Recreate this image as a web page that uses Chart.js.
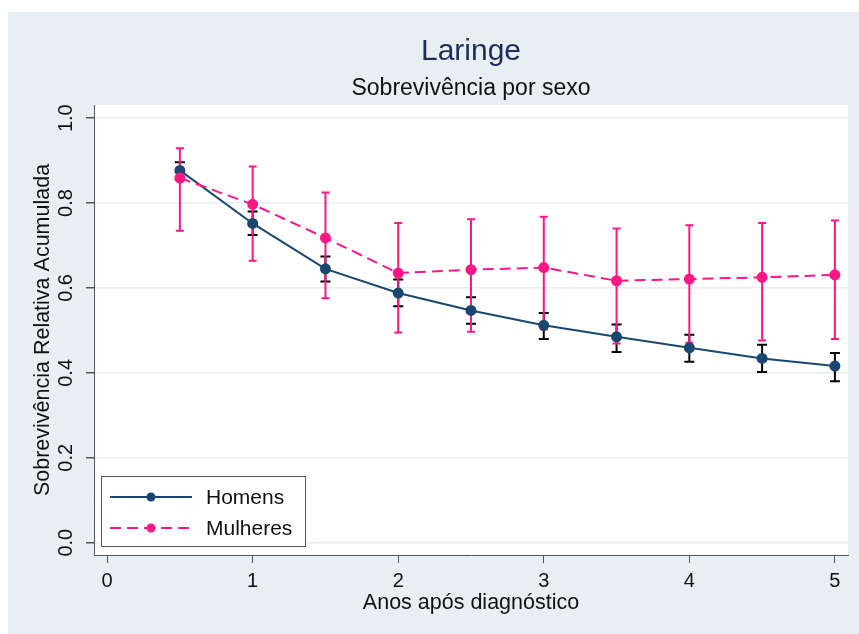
<!DOCTYPE html>
<html lang="pt">
<head>
    <meta charset="UTF-8">
    <title>Laringe</title>
    <script src="https://cdn.jsdelivr.net/npm/chart.js"></script>
    <style>
        html, body { margin: 0; padding: 0; background: #ffffff; }
        .wrap { width: 859px; height: 634px; }
    </style>
</head>
<body>
    <div class="wrap">
        <canvas id="survChart" width="859" height="634"></canvas>
    </div>

    <script>
        // years after diagnosis
        const anos = [0.5, 1, 1.5, 2, 2.5, 3, 3.5, 4, 4.5, 5];

        // Homens: estimate + CI
        const homens    = [0.877, 0.752, 0.645, 0.588, 0.547, 0.512, 0.485, 0.459, 0.434, 0.416];
        const homensLo  = [0.855, 0.725, 0.615, 0.557, 0.516, 0.480, 0.449, 0.426, 0.402, 0.380];
        const homensHi  = [0.896, 0.780, 0.674, 0.620, 0.578, 0.541, 0.514, 0.490, 0.466, 0.447];

        // Mulheres: estimate + CI
        const mulheres   = [0.859, 0.797, 0.718, 0.635, 0.643, 0.648, 0.617, 0.621, 0.625, 0.631];
        const mulheresLo = [0.735, 0.664, 0.576, 0.495, 0.497, 0.502, 0.469, 0.471, 0.476, 0.480];
        const mulheresHi = [0.929, 0.886, 0.825, 0.753, 0.762, 0.768, 0.740, 0.748, 0.753, 0.759];

        const xTicks = [0, 1, 2, 3, 4, 5];
        const yTicks = [0, 0.2, 0.4, 0.6, 0.8, 1.0];

        const NAVY = '#1a476f';
        const PINK = '#ff1685';
        const FONT = "'Liberation Sans', Arial, sans-serif";

        const pts = (ys) => anos.map((x, i) => ({ x: x, y: ys[i] }));

        // light blue-grey outer area + white plot region
        const backdrop = {
            id: 'backdrop',
            beforeDraw(chart) {
                const c = chart.ctx, a = chart.chartArea;
                c.save();
                c.fillStyle = '#e8eff2';
                c.fillRect(8, 12, chart.width - 8, chart.height - 12);
                c.fillStyle = '#ffffff';
                c.fillRect(a.left, a.top, a.right - a.left, a.bottom - a.top);
                c.restore();
            }
        };

        // confidence interval whiskers
        function drawCI(chart, lo, hi, color, capHalf) {
            const c = chart.ctx;
            const xs = chart.scales.x, ys = chart.scales.y;
            c.save();
            c.strokeStyle = color;
            c.lineWidth = 2;
            anos.forEach((a, i) => {
                const px = xs.getPixelForValue(a);
                const y1 = ys.getPixelForValue(lo[i]);
                const y2 = ys.getPixelForValue(hi[i]);
                c.beginPath();
                c.moveTo(px, y1); c.lineTo(px, y2);
                c.moveTo(px - capHalf, y1); c.lineTo(px + capHalf, y1);
                c.moveTo(px - capHalf, y2); c.lineTo(px + capHalf, y2);
                c.stroke();
            });
            c.restore();
        }

        const whiskers = {
            id: 'whiskers',
            beforeDatasetsDraw(chart) {
                drawCI(chart, homensLo, homensHi, '#000000', 5);
                drawCI(chart, mulheresLo, mulheresHi, PINK, 4);
            }
        };

        // legend box inside the plot, bottom left
        const boxLegend = {
            id: 'boxLegend',
            afterDraw(chart) {
                const c = chart.ctx, a = chart.chartArea;
                const left = a.left + 7, bottom = a.bottom - 9;
                const w = 204, h = 70, top = bottom - h;
                c.save();
                c.fillStyle = '#ffffff';
                c.fillRect(left, top, w, h);
                c.strokeStyle = '#555555';
                c.lineWidth = 1;
                c.strokeRect(left + 0.5, top + 0.5, w, h);
                const entries = [chart.data.datasets[0], chart.data.datasets[1]];
                entries.forEach((ds, i) => {
                    const y = top + 21 + i * 31;
                    c.strokeStyle = ds.borderColor;
                    c.lineWidth = ds.borderWidth;
                    c.setLineDash(ds.borderDash || []);
                    c.beginPath();
                    c.moveTo(left + 9, y); c.lineTo(left + 91, y);
                    c.stroke();
                    c.setLineDash([]);
                    c.fillStyle = ds.pointBackgroundColor;
                    c.beginPath();
                    c.arc(left + 50, y, 4.5, 0, Math.PI * 2);
                    c.fill();
                    c.fillStyle = '#111111';
                    c.font = '21px ' + FONT;
                    c.textBaseline = 'middle';
                    c.fillText(ds.label, left + 105, y + 1);
                });
                c.restore();
            }
        };

        const ctx = document.getElementById('survChart').getContext('2d');

        new Chart(ctx, {
            type: 'line',
            data: {
                datasets: [{
                    label: 'Homens',
                    data: pts(homens),
                    borderColor: NAVY,
                    backgroundColor: NAVY,
                    pointBackgroundColor: NAVY,
                    pointBorderColor: NAVY,
                    borderWidth: 2,
                    pointRadius: 4.5,
                    tension: 0,
                    order: 2,
                }, {
                    label: 'Mulheres',
                    data: pts(mulheres),
                    borderColor: PINK,
                    backgroundColor: PINK,
                    pointBackgroundColor: PINK,
                    pointBorderColor: PINK,
                    borderWidth: 2,
                    borderDash: [11, 6],
                    pointRadius: 4.5,
                    tension: 0,
                    order: 1,
                }]
            },
            options: {
                responsive: false,
                animation: false,
                layout: { padding: { left: 0, right: 11, top: 0, bottom: 0 } },
                plugins: {
                    legend: { display: false },
                    tooltip: { enabled: false },
                    title: {
                        display: true,
                        fullSize: false,
                        text: 'Laringe',
                        color: '#1e2c5c',
                        font: { family: FONT, size: 30, weight: 'normal', lineHeight: 1.2 },
                        padding: { top: 34, bottom: 0 }
                    },
                    subtitle: {
                        display: true,
                        fullSize: false,
                        text: 'Sobrevivência por sexo',
                        color: '#111111',
                        font: { family: FONT, size: 23, weight: 'normal', lineHeight: 1.2 },
                        padding: { top: 5, bottom: 2.4 }
                    }
                },
                scales: {
                    x: {
                        type: 'linear',
                        min: -0.09,
                        max: 5.09,
                        afterBuildTicks: (s) => { s.ticks = xTicks.map(v => ({ value: v })); },
                        afterFit: (s) => { s.height = 79; },
                        border: { display: true, color: '#555555', width: 1 },
                        grid: { drawOnChartArea: false, drawTicks: true, tickLength: 8, tickColor: '#555555' },
                        ticks: {
                            color: '#111111',
                            padding: 6,
                            font: { family: FONT, size: 20 },
                            callback: (v) => String(v)
                        },
                        title: {
                            display: true,
                            text: 'Anos após diagnóstico',
                            color: '#111111',
                            font: { family: FONT, size: 21.5 },
                            padding: { top: 0, bottom: 18 }
                        }
                    },
                    y: {
                        min: -0.029,
                        max: 1.031,
                        afterBuildTicks: (s) => { s.ticks = yTicks.map(v => ({ value: v })); },
                        afterFit: (s) => { s.width = 94; },
                        border: { display: true, color: '#555555', width: 1 },
                        grid: { color: '#e6eef1', lineWidth: 1.5, drawTicks: true, tickLength: 8, tickColor: '#555555' },
                        ticks: {
                            color: '#111111',
                            padding: 6,
                            minRotation: 90,
                            maxRotation: 90,
                            crossAlign: 'center',
                            font: { family: FONT, size: 20 },
                            callback: (v) => Number(v).toFixed(1)
                        },
                        title: {
                            display: true,
                            text: 'Sobrevivência Relativa Acumulada',
                            color: '#111111',
                            font: { family: FONT, size: 21.5 },
                            padding: { top: 30, bottom: 0 }
                        }
                    }
                }
            },
            plugins: [backdrop, whiskers, boxLegend]
        });
    </script>
</body>
</html>
